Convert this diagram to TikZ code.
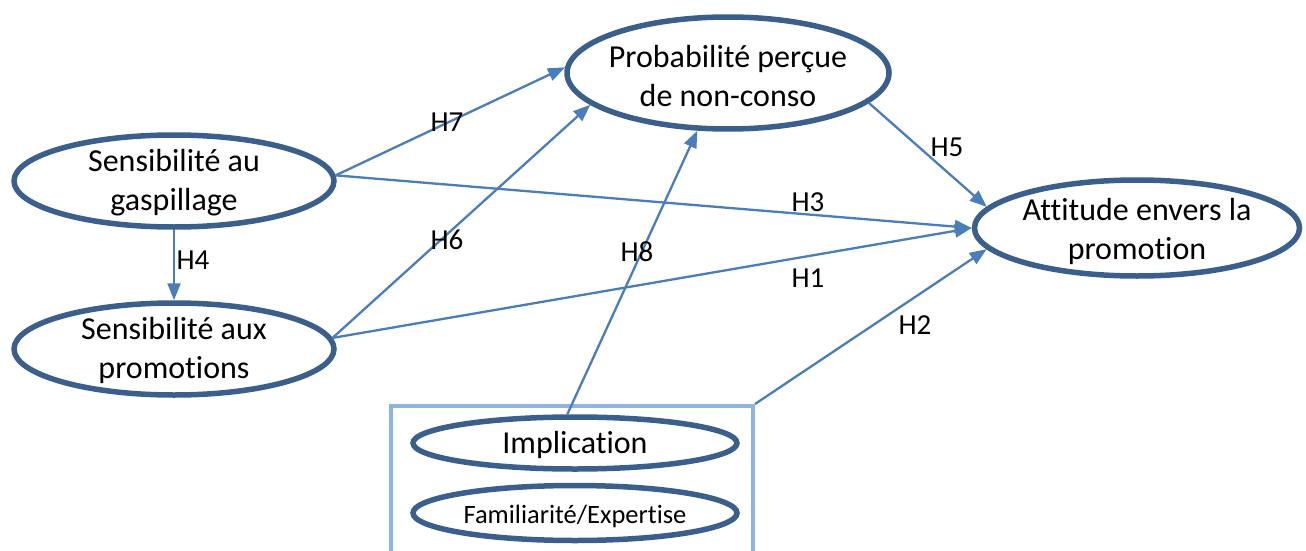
\documentclass[tikz,border=0pt]{standalone}
\usepackage{fontspec}
\setmainfont{Carlito}[Ligatures={NoCommon}]
\usetikzlibrary{arrows.meta,shapes.geometric}
\definecolor{ellc}{HTML}{3A5F8B}
\definecolor{arrc}{HTML}{4A7EBB}
\definecolor{boxc}{HTML}{8EB4E3}
\begin{document}
\begin{tikzpicture}[x=1pt,y=-1pt,
  ell/.style={ellipse,draw=ellc,line width=5.5pt,inner sep=0pt},
  txt/.style={align=center,font=\fontsize{32}{39}\selectfont,inner sep=0pt},
  hyp/.style={font=\fontsize{29}{33}\selectfont,inner sep=0pt},
  conn/.style={draw=arrc,line width=2.3pt,-{Triangle[length=17pt,width=13pt]}}]
\useasboundingbox (0,0) rectangle (1306,551);
% ellipses
\node[ell,minimum width=320pt,minimum height=92pt] (gasp) at (174,181) {};
\node[ell,minimum width=320pt,minimum height=92pt] (promo) at (174,349) {};
\node[ell,minimum width=322pt,minimum height=112pt] (proba) at (728,73) {};
\node[ell,minimum width=325pt,minimum height=96pt] (att) at (1137,228) {};
\node[draw=boxc,line width=4pt,minimum width=362pt,minimum height=170pt,inner sep=0pt,anchor=north west] (box) at (389,404) {};
\node[ell,minimum width=324pt,minimum height=52pt] (impl) at (575,443) {};
\node[ell,minimum width=324pt,minimum height=55pt] (fam) at (575,513) {};
% texts
\node[txt] (gaspT) at (174,183) {Sensibilité au\\gaspillage};
\node[txt] (promoT) at (174,350) {Sensibilité aux\\promotions};
\node[txt] (probaT) at (728,76) {Probabilité perçue\\de non-conso};
\node[txt] (attT) at (1137,231) {Attitude envers la\\promotion};
\node[txt] (implT) at (575,445) {Implication};
\node[txt,font=\fontsize{26.5}{30}\selectfont] (famT) at (575,516) {Familiarité/Expertise};
% connectors
\draw[conn] (gasp.2) -- (proba.178);
\draw[conn] (gasp.2) -- (att.180);
\draw[conn] (gasp.south) -- (promo.north);
\draw[conn] (promo.4) -- (proba.193);
\draw[conn] (promo.4) -- (att.180);
\draw[conn] (impl.105) -- (proba.242);
\draw[conn] (box.north east) -- (att.188);
\draw[conn] (proba.348) -- (att.172);
% labels
\node[hyp] (h7) at (447,122) {H7};
\node[hyp] (h6) at (447,240) {H6};
\node[hyp] (h8) at (637,252) {H8};
\node[hyp] (h4) at (193,260) {H4};
\node[hyp] (h5) at (947,147) {H5};
\node[hyp] (h3) at (808,202) {H3};
\node[hyp] (h1) at (808,278) {H1};
\node[hyp] (h2) at (915,325) {H2};
\end{tikzpicture}
\end{document}
